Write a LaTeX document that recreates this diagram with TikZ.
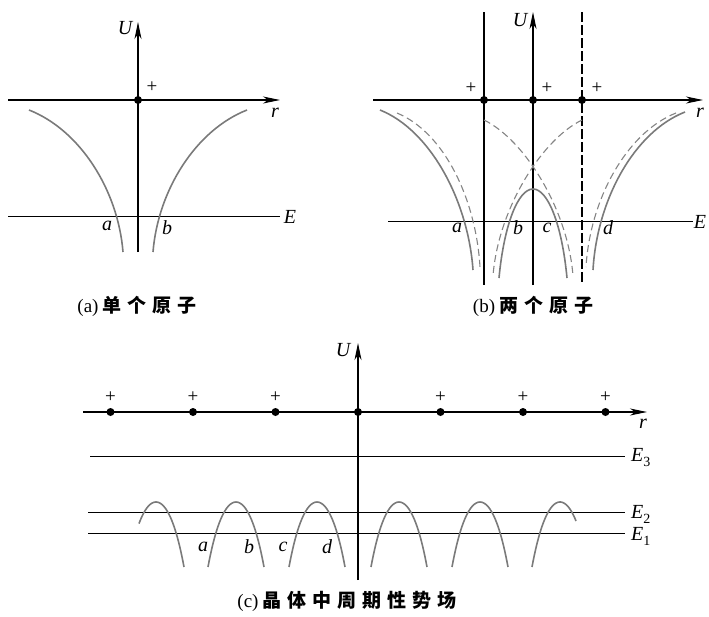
\documentclass[tikz,border=0pt]{standalone}
\usepackage{fontspec}
\setmainfont{Liberation Serif}
\newfontfamily\cjk{Noto Sans CJK SC}
\usetikzlibrary{arrows.meta}
\newcommand{\cs}{\hspace{6pt}}
\newcommand{\cj}[1]{{\cjk\bfseries #1}}
\begin{document}
\begin{tikzpicture}[x=1pt,y=-1pt,
  axis/.style={line width=1.1pt, -{Stealth[length=17pt,width=7pt,inset=5pt]}},
  lvl/.style={line width=1pt},
  pot/.style={line width=1.6pt, draw=black!52},
  potd/.style={line width=1.1pt, draw=black!48, dash pattern=on 7pt off 4pt},
  vdash/.style={line width=1.1pt, dash pattern=on 10pt off 3pt},
  lab/.style={font=\fontsize{20}{20}\selectfont\itshape, inner sep=0pt},
  pl/.style={font=\fontsize{19}{19}\selectfont, inner sep=0pt},
  captxt/.style={font=\fontsize{19}{19}\selectfont, inner sep=0pt},
  atom/.style={circle, fill=black, inner sep=0pt, minimum size=8pt}]
\useasboundingbox (0,0) rectangle (709,616);

% ---------------- (a) single atom ----------------
\draw[axis] (8,100) -- (280,100);
\draw[axis] (138,252) -- (138,22);
\draw[lvl] (8,216) -- (280,216);
\node[atom] (a0) at (138,100) {};
\draw[pot] (29,110) .. controls (80,130) and (118,190) .. (123,252);
\draw[pot] (247,110) .. controls (196,130) and (158,190) .. (153,252);
\node[lab] (aU) at (125,28) {U};
\node[pl]  (ap) at (152,87) {+};
\node[lab] (ar) at (275,113) {r};
\node[lab] (aE) at (290,217) {E};
\node[lab] (aa) at (107,226) {a};
\node[lab] (ab) at (167,228) {b};
\node[captxt] (capa) at (137,306) {(a)\hspace{4pt}\cj{单\cs 个\cs 原\cs 子}};

% ---------------- (b) two atoms ----------------
\draw[line width=1.1pt] (484,12) -- (484,285);
\draw[vdash] (582,12) -- (582,285);
\draw[axis] (533,285) -- (533,12);
\draw[axis] (373,100) -- (703,100);
\draw[lvl] (388,221) -- (693,221);
\node[atom] (b1) at (484,100) {};
\node[atom] (b2) at (533,100) {};
\node[atom] (b3) at (582,100) {};
% outer curves
\draw[pot]  (380,110) .. controls (430,130) and (468,200) .. (473,270);
\draw[potd] (397,113) .. controls (445,133) and (476,200) .. (480,267);
\draw[pot]  (685,112) .. controls (634,132) and (597,200) .. (593,270);
\draw[potd] (676,113) .. controls (626,133) and (590,200) .. (586,267);
% middle dashed curves
\draw[potd] (484,120) .. controls (525,140) and (568,210) .. (573,276);
\draw[potd] (582,120) .. controls (541,140) and (498,210) .. (493,276);
% middle solid arch
\draw[pot] (499,278) .. controls (504,225) and (518,189) .. (533,189)
           .. controls (548,189) and (562,225) .. (567,278);
\node[lab] (bU) at (520,20) {U};
\node[pl]  (bp1) at (471,88) {+};
\node[pl]  (bp2) at (547,88) {+};
\node[pl]  (bp3) at (597,88) {+};
\node[lab] (br) at (700,113) {r};
\node[lab] (bE) at (700,222) {E};
\node[lab] (ba) at (457,228) {a};
\node[lab] (bb) at (518,228) {b};
\node[lab] (bc) at (547,228) {c};
\node[lab] (bd) at (608,228) {d};
\node[captxt] (capb) at (533,306) {(b)\hspace{4pt}\cj{两\cs 个\cs 原\cs 子}};

% ---------------- (c) crystal ----------------
\draw[axis] (83,412) -- (647,412);
\draw[axis] (358,580) -- (358,343);
\draw[lvl] (90,456) -- (625,456);
\draw[lvl] (88,512) -- (625,512);
\draw[lvl] (88,533) -- (625,533);
\foreach \k/\n in {-3/c1,-2/c2,-1/c3,1/c5,2/c6,3/c7}{
  \node[atom] (\n) at ({358+82.5*\k},412) {};
  \node[pl] at ({358+82.5*\k},397) {+};
}
\node[atom] (c4) at (358,412) {};
\foreach \c in {236,317,399,480}{
  \draw[pot] plot[domain=-28:28, samples=41, smooth]
    ({\c+\x},{502+0.07*\x*\x+0.164*(\x/10)^4});
}
\draw[pot] plot[domain=-17:28, samples=41, smooth]
    ({156+\x},{502+0.07*\x*\x+0.164*(\x/10)^4});
\draw[pot] plot[domain=-28:16, samples=41, smooth]
    ({560+\x},{502+0.07*\x*\x+0.164*(\x/10)^4});
\node[lab] (cU) at (343,350) {U};
\node[lab] (cr) at (643,424) {r};
\node[lab, anchor=west] (cE3) at (631,458) {E\raisebox{-5pt}{\upshape\fontsize{14}{14}\selectfont 3}};
\node[lab, anchor=west] (cE2) at (631,514) {E\raisebox{-5pt}{\upshape\fontsize{14}{14}\selectfont 2}};
\node[lab, anchor=west] (cE1) at (631,536) {E\raisebox{-5pt}{\upshape\fontsize{14}{14}\selectfont 1}};
\node[lab] (ca) at (203,547) {a};
\node[lab] (cb) at (249,547) {b};
\node[lab] (cc) at (283,547) {c};
\node[lab] (cd) at (327,547) {d};
\node[captxt] (capc) at (347,601) {(c)\hspace{4pt}\cj{晶\cs 体\cs 中\cs 周\cs 期\cs 性\cs 势\cs 场}};
\end{tikzpicture}
\end{document}
